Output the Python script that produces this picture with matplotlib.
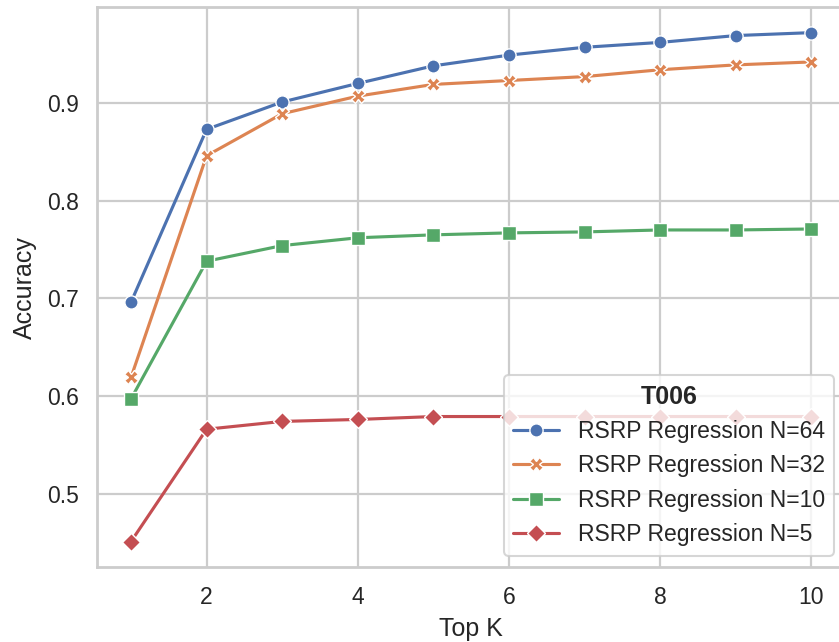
import matplotlib
matplotlib.use("Agg")
import matplotlib.pyplot as plt
import seaborn as sns

top_k = [1, 2, 3, 4, 5, 6, 7, 8, 9, 10]
acc_n64 = [0.696, 0.873, 0.901, 0.920, 0.938, 0.949, 0.957, 0.962, 0.969, 0.972]
acc_n32 = [0.619, 0.846, 0.889, 0.907, 0.919, 0.923, 0.927, 0.934, 0.939, 0.942]
acc_n10 = [0.597, 0.738, 0.754, 0.762, 0.765, 0.767, 0.768, 0.770, 0.770, 0.771]
acc_n5 = [0.451, 0.566, 0.574, 0.576, 0.579, 0.579, 0.579, 0.579, 0.579, 0.579]
series_labels = ["RSRP Regression N=64", "RSRP Regression N=32",
                 "RSRP Regression N=10", "RSRP Regression N=5"]
legend_title = "T006"

sns.set_theme(context="talk", style="whitegrid")
plt.rcParams['font.family'] = ['Liberation Sans', 'DejaVu Sans']

pal = sns.color_palette("deep")
fig = plt.figure(figsize=(8.39, 6.42), dpi=100)
ax = fig.add_axes([0.1156, 0.1168, 0.892, 0.872])

markers = ['o', 'X', 's', 'D']
for ys, lab, c, m in zip([acc_n64, acc_n32, acc_n10, acc_n5], series_labels, pal[:4], markers):
    ax.plot(top_k, ys, color=c, marker=m, markersize=9.5, linewidth=2.25,
            markeredgecolor='white', markeredgewidth=1, label=lab)

ax.set_xticks([2, 4, 6, 8, 10])
ax.set_yticks([0.5, 0.6, 0.7, 0.8, 0.9])
ax.tick_params(axis='both', labelsize=16.5, colors='#262626')
ax.tick_params(axis='x', pad=4.5)
ax.tick_params(axis='y', pad=4)
ax.set_xlabel("Top K", fontsize=18, color='#262626', labelpad=6)
ax.set_ylabel("Accuracy", fontsize=18, color='#262626', labelpad=7)
for s in ax.spines.values():
    s.set_color('#cccccc')
    s.set_linewidth(2)
ax.grid(color='#cccccc', linewidth=1.6)

leg = ax.legend(title=legend_title, loc='lower right', fontsize=16.5,
                title_fontproperties={'weight': 'bold', 'size': 18})
fig.savefig("out.png", dpi=100)
